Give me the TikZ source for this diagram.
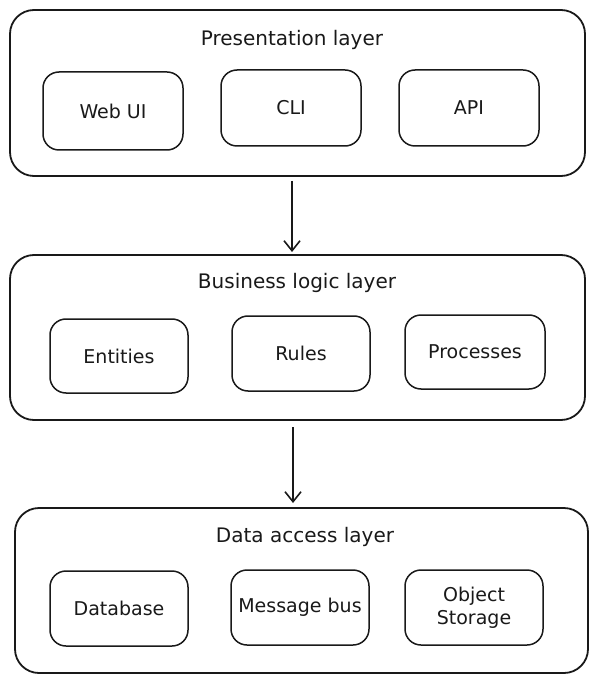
\documentclass[tikz,border=0pt]{standalone}
\usepackage{fontspec}
\setmainfont{DejaVu Sans}
\usetikzlibrary{arrows.meta}
\begin{document}
\begin{tikzpicture}[x=1pt,y=-1pt,
  layerbox/.style={draw=black!90, line width=1.8pt, rounded corners=24pt},
  itembox/.style={draw=black!90, line width=1.5pt, rounded corners=16pt},
  titletext/.style={font=\fontsize{20}{24}\selectfont, text=black!90},
  itemtext/.style={font=\fontsize{19}{22}\selectfont, text=black!90, align=center},
  flow/.style={line width=1.8pt, draw=black!90, -{Straight Barb[length=10pt,width=16pt,line width=1.6pt]}}]
\useasboundingbox (0,0) rectangle (598,684);
% layers
\node[layerbox, minimum width=575pt, minimum height=166pt] (L1) at (297.5,93) {};
\node[layerbox, minimum width=575pt, minimum height=165pt] (L2) at (297.5,337.5) {};
\node[layerbox, minimum width=573pt, minimum height=165pt] (L3) at (301.5,590.5) {};
% titles
\node[titletext] (T1) at (292,40) {Presentation layer};
\node[titletext] (T2) at (297,283) {Business logic layer};
\node[titletext] (T3) at (305,537) {Data access layer};
% row 1
\node[itembox, minimum width=140pt, minimum height=78pt] (webui) at (113,111) {};
\node[itemtext] at (webui.center) {Web UI};
\node[itembox, minimum width=140pt, minimum height=76pt] (cli) at (291,108) {};
\node[itemtext] at (cli.center) {CLI};
\node[itembox, minimum width=140pt, minimum height=76pt] (api) at (469,108) {};
\node[itemtext] at (api.center) {API};
% row 2
\node[itembox, minimum width=138pt, minimum height=74pt] (ent) at (119,356) {};
\node[itemtext] at (ent.center) {Entities};
\node[itembox, minimum width=138pt, minimum height=75pt] (rules) at (301,353.5) {};
\node[itemtext] at (rules.center) {Rules};
\node[itembox, minimum width=140pt, minimum height=74pt] (proc) at (475,352) {};
\node[itemtext] at (proc.center) {Processes};
% row 3
\node[itembox, minimum width=138pt, minimum height=75pt] (db) at (119,608.5) {};
\node[itemtext] at (db.center) {Database};
\node[itembox, minimum width=138pt, minimum height=75pt] (bus) at (300,607.5) {};
\node[itemtext] at (bus.center) {Message bus};
\node[itembox, minimum width=138pt, minimum height=75pt] (obj) at (474,607.5) {};
\node[itemtext, font=\fontsize{19}{23}\selectfont] at (obj.center) {Object\\Storage};
% arrows
\coordinate (a1s) at (292,181);
\coordinate (a1e) at (292,252);
\coordinate (a2s) at (293,427);
\coordinate (a2e) at (293,503);
\draw[flow] (a1s) -- (a1e);
\draw[flow] (a2s) -- (a2e);
\end{tikzpicture}
\end{document}
